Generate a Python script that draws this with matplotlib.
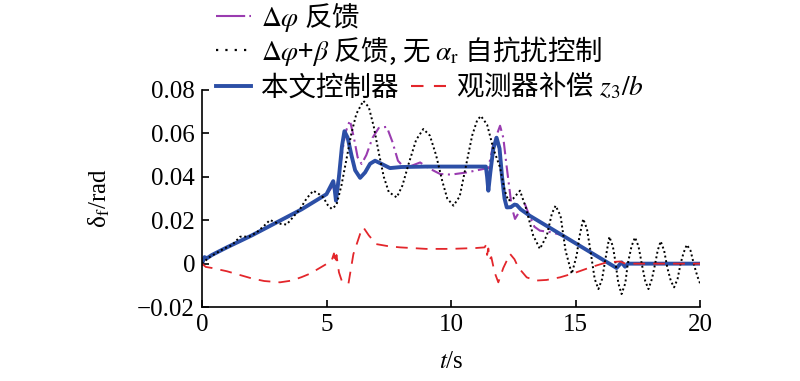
import matplotlib
matplotlib.use("Agg")
import matplotlib.pyplot as plt
from matplotlib.lines import Line2D

plt.rcParams['font.family'] = ['Liberation Serif', 'Noto Sans CJK SC']
plt.rcParams['mathtext.fontset'] = 'stix'

# ---- data ----
# proposed controller (blue solid)
t_ours = [0, 0.1, 0.2, 0.4, 1, 2, 3, 4, 5, 5.27, 5.33, 5.38, 5.5, 5.62, 5.72,
          5.85, 6.0, 6.15, 6.35, 6.55, 6.75, 6.95, 7.2, 7.55, 8, 9, 10, 11,
          11.4, 11.45, 11.5, 11.58, 11.7, 11.83, 11.95, 12.05, 12.15, 12.24,
          12.4, 12.55, 12.64, 12.8, 13.17, 14, 15, 16, 16.65, 16.85, 16.99,
          17.1, 18, 20]
y_ours = [0, 0.003, 0.0025, 0.004, 0.0075, 0.013, 0.019, 0.025, 0.032, 0.038,
          0.034, 0.029, 0.040, 0.054, 0.061, 0.058, 0.050, 0.043, 0.0395,
          0.042, 0.046, 0.0474, 0.046, 0.044, 0.0445, 0.0447, 0.0447, 0.0447,
          0.0447, 0.040, 0.0336, 0.042, 0.053, 0.058, 0.053, 0.040, 0.030,
          0.0259, 0.026, 0.0272, 0.027, 0.025, 0.022, 0.0163, 0.0094, 0.0025,
          -0.002, 0.0006, -0.0014, 0.0, 0.0, 0.0]

# delta-phi feedback (purple dash-dot)
t_dphi = [0, 0.1, 0.2, 0.4, 1, 2, 3, 4, 5, 5.27, 5.4, 5.55, 5.75, 5.94, 6.1,
          6.25, 6.41, 6.6, 6.85, 7.1, 7.42, 7.65, 7.87, 8.1, 8.4, 8.76, 9.1,
          9.56, 10.0, 10.63, 11.3, 11.5, 11.7, 11.97, 12.1, 12.24, 12.44,
          12.57, 12.75, 12.97, 13.15, 13.35, 13.57, 14.0, 14.4, 15, 16, 16.65,
          16.85, 17.0, 17.2, 20]
y_dphi = [0, 0.002, 0.0025, 0.004, 0.0075, 0.013, 0.019, 0.025, 0.032, 0.036,
          0.033, 0.045, 0.060, 0.066, 0.058, 0.049, 0.0459, 0.050, 0.058,
          0.0625, 0.063, 0.056, 0.0474, 0.0445, 0.045, 0.0466, 0.044, 0.0413,
          0.041, 0.042, 0.0436, 0.044, 0.055, 0.0635, 0.058, 0.0443, 0.026,
          0.0206, 0.024, 0.0274, 0.022, 0.017, 0.0152, 0.0145, 0.0133, 0.0094,
          0.0025, -0.002, 0.0006, -0.001, 0.0, 0.0]

# delta-phi + beta feedback, no ADRC (black dotted)
t_dpb = [0, 0.3, 0.86, 1.2, 1.53, 1.9, 2.2, 2.5, 2.73, 3.05, 3.4, 3.7, 3.94,
         4.2, 4.47, 4.7, 4.87, 5.05, 5.21, 5.4, 5.6, 5.8, 6.0, 6.2, 6.48, 6.7,
         6.9, 7.1, 7.3, 7.5, 7.82, 8.05, 8.3, 8.6, 8.89, 9.15, 9.4, 9.65,
         9.85, 10.1, 10.35, 10.6, 10.85, 11.05, 11.2, 11.45, 11.7, 11.97,
         12.15, 12.3, 12.5, 12.77, 13.0, 13.3, 13.57, 13.85, 14.05, 14.2,
         14.4, 14.6, 14.85, 15.05, 15.15, 15.31, 15.46, 15.62, 15.77, 15.92,
         16.07, 16.2, 16.36, 16.5, 16.6, 16.72, 16.85, 17.0, 17.1, 17.25,
         17.39, 17.53, 17.66, 17.8, 17.93, 18.07, 18.2, 18.3, 18.42, 18.56,
         18.69, 18.83, 18.96, 19.1, 19.22, 19.34, 19.47, 19.62, 19.77, 19.9,
         20]
y_dpb = [0, 0.003, 0.0068, 0.0085, 0.0124, 0.0125, 0.0144, 0.0175, 0.0201,
         0.0185, 0.018, 0.022, 0.0252, 0.030, 0.0336, 0.032, 0.0305, 0.027,
         0.0252, 0.027, 0.036, 0.048, 0.060, 0.069, 0.075, 0.072, 0.063,
         0.051, 0.040, 0.033, 0.0305, 0.036, 0.046, 0.057, 0.062, 0.059,
         0.050, 0.038, 0.030, 0.0267, 0.031, 0.045, 0.059, 0.066, 0.068,
         0.064, 0.053, 0.0443, 0.034, 0.029, 0.030, 0.0336, 0.026, 0.013,
         0.0068, 0.013, 0.023, 0.0267, 0.022, 0.006, -0.0047, 0.004, 0.012,
         0.0206, 0.016, 0.0045, -0.007, -0.0117, -0.007, 0.002, 0.0124, 0.008,
         0.001, -0.009, -0.014, -0.009, 0.000, 0.008, 0.0121, 0.008, 0.000,
         -0.008, -0.0117, -0.007, 0.000, 0.006, 0.0103, 0.006, -0.002, -0.008,
         -0.0109, -0.007, 0.000, 0.005, 0.0087, 0.006, -0.001, -0.006,
         -0.009]

# observer compensation z3/b (red dashed)
t_obs = [0, 0.15, 0.4, 1, 2, 2.5, 3.13, 3.6, 4.0, 4.34, 4.8, 5.2, 5.3, 5.35,
         5.4, 5.5, 5.61, 5.88, 6.08, 6.35, 6.48, 6.7, 7.0, 7.5, 7.95, 9, 10,
         11.0, 11.35, 11.4, 11.45, 11.5, 11.55, 11.62, 11.75, 11.9, 12.1,
         12.37, 12.55, 12.7, 13.04, 13.4, 13.84, 14.38, 14.91, 15.6, 16.25,
         16.79, 17.0, 20]
y_obs = [0, -0.0015, -0.002, -0.0035, -0.0068, -0.008, -0.0086, -0.0078,
         -0.0062, -0.0046, -0.0015, 0.0012, 0.0047, 0.0, 0.004, -0.004,
         -0.0078, -0.0093, 0.0044, 0.0137, 0.0167, 0.013, 0.009, 0.008,
         0.0075, 0.0068, 0.0068, 0.0072, 0.0075, 0.0085, 0.004, 0.007, 0.002,
         0.003, -0.004, -0.0086, -0.002, 0.0045, 0.002, -0.0017, -0.0063,
         -0.0078, -0.0075, -0.0063, -0.0045, -0.0017, 0.0006, 0.001, 0.0, 0.0]

labels = [r'$\Delta\varphi$ 反馈',
          r'$\Delta\varphi$+$\beta$ 反馈, 无 $\alpha_\mathrm{r}$ 自抗扰控制',
          '本文控制器',
          r'观测器补偿 $z_3/b$']

c_purple = '#9a3cb0'
c_blue = '#2c4fa6'
c_red = '#e3262b'

fig = plt.figure(figsize=(8, 3.81), dpi=100)
ax = fig.add_axes([0.2525, 0.194, 0.6225, 0.570])

ax.plot(t_dphi, y_dphi, color=c_purple, lw=1.5, dashes=(6, 2.2, 1, 2.2))
ax.plot(t_ours, y_ours, color=c_blue, lw=2.8)
ax.plot(t_dpb, y_dpb, color='black', lw=1.4, linestyle=(0, (1, 1.4)))
ax.plot(t_obs, y_obs, color=c_red, lw=1.3, dashes=(6.5, 4.5))

ax.set_xlim(0, 20)
ax.set_ylim(-0.02, 0.08)
ax.set_xticks([0, 5, 10, 15, 20])
ax.set_yticks([-0.02, 0, 0.02, 0.04, 0.06, 0.08])
ax.set_yticklabels(['\u22120.02', '0', '0.02', '0.04', '0.06', '0.08'])
ax.spines['top'].set_visible(False)
ax.spines['right'].set_visible(False)
for s in ['left', 'bottom']:
    ax.spines[s].set_linewidth(1.2)
ax.tick_params(direction='in', length=5, width=1.2, labelsize=18, pad=5)

ax.set_xlabel(r'$t$/s', fontsize=18, labelpad=11)
ax.set_ylabel(r'δ$_\mathrm{f}$/rad', fontsize=18, labelpad=18)

# legend rows
cjk = {'family': ['Noto Sans CJK SC'], 'size': 19.8}
h_dphi = Line2D([], [], color=c_purple, lw=1.5, dashes=(14, 2, 1, 2))
h_dpb = Line2D([], [], color='black', lw=1.6, linestyle=(0, (1, 3.2)))
h_ours = Line2D([], [], color=c_blue, lw=2.8)
h_obs = Line2D([], [], color=c_red, lw=1.5, dashes=(6, 5))

common = dict(loc='center left', frameon=False, borderpad=0, borderaxespad=0,
              handlelength=1.28, handletextpad=0.36, prop=cjk)
fig.legend([h_dphi], [labels[0]], bbox_to_anchor=(0.270, 0.955), **common)
fig.legend([h_dpb], [labels[1]], bbox_to_anchor=(0.270, 0.867), **common)
fig.legend([h_ours, h_obs], [labels[2], labels[3]], ncol=2,
           columnspacing=0.45, bbox_to_anchor=(0.270, 0.776), **common)

fig.savefig('out.png', dpi=100)
